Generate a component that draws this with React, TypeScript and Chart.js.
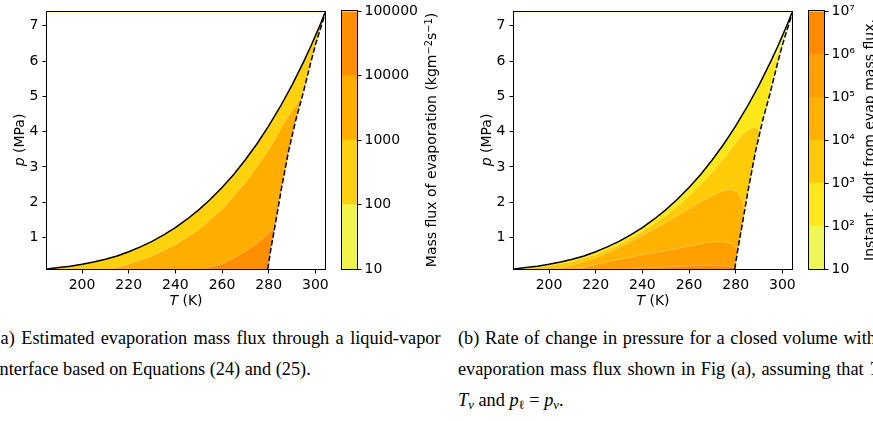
import React, { useEffect, useRef } from 'react';
import { Chart, registerables } from 'chart.js';

Chart.register(...registerables);
Chart.defaults.font.family = 'DejaVu Sans';

// ---------------- data ----------------
// saturation curve, T (K) vs p (MPa)
const SAT_T = [185, 190, 195, 200, 205, 210, 215, 220, 225, 230, 235, 240, 245, 250, 255, 260, 265, 270, 275, 280, 285, 290, 295, 298, 300, 302, 303, 304.13];
const SAT_P = [0.11, 0.15, 0.19, 0.245, 0.31, 0.385, 0.48, 0.6, 0.735, 0.893, 1.075, 1.283, 1.52, 1.785, 2.083, 2.419, 2.789, 3.203, 3.658, 4.161, 4.712, 5.318, 5.984, 6.41, 6.713, 7.02, 7.18, 7.377];
// dashed limit curve
const DASH_T = [279.6, 281.0, 282.6, 285.5, 288.5, 291.5, 294.6, 298.0, 300.0, 301.4, 302.8, 303.6, 304.13];
const DASH_P = [0.11, 0.7, 1.29, 2.4, 3.44, 4.3, 5.05, 5.95, 6.45, 6.75, 7.05, 7.22, 7.377];

// panel (a) contour lines of mass flux
const A_L1000_T = [212.9, 220, 230, 240, 250, 260, 270, 280, 288, 294.4, 300];
const A_L1000_P = [0.11, 0.25, 0.48, 0.8, 1.22, 1.8, 2.55, 3.48, 4.4, 5.0, 5.7];
const A_L10000_T = [252.1, 260, 265, 270.7, 275, 278, 282.5, 288];
const A_L10000_P = [0.11, 0.26, 0.42, 0.64, 0.84, 1.0, 1.3, 1.8];

// panel (b) contour lines of dp/dt
const B_L1E2_T = [291.6, 294, 297, 299.5, 301.5, 304];
const B_L1E2_P = [5.5, 5.78, 6.12, 6.45, 6.72, 7.0];
const B_L1E3_T = [188, 200, 210, 220, 230, 240, 250, 260, 270, 278, 283, 286, 288, 289.6, 290.8, 292];
const B_L1E3_P = [0.11, 0.2, 0.33, 0.52, 0.8, 1.17, 1.62, 2.17, 2.85, 3.5, 3.93, 4.08, 4.13, 4.07, 3.95, 3.7];
const B_L1E4_T = [203, 210, 220, 230, 239, 250, 260, 268, 274, 278, 280.5, 282.3, 283.6, 285];
const B_L1E4_P = [0.11, 0.22, 0.42, 0.72, 1.02, 1.42, 1.82, 2.13, 2.32, 2.37, 2.3, 2.12, 1.85, 1.4];
const B_L1E5_T = [211, 220, 230, 239, 250, 260, 266, 270, 273, 276, 278.5, 280.2, 281.5, 283];
const B_L1E5_P = [0.11, 0.24, 0.38, 0.5, 0.63, 0.76, 0.84, 0.88, 0.89, 0.87, 0.81, 0.7, 0.5, 0.2];
const B_L1E6_T = [232, 245, 258, 268, 275, 279, 282];
const B_L1E6_P = [0.11, 0.15, 0.19, 0.21, 0.2, 0.17, 0.12];

const X_TICKS = [200, 220, 240, 260, 280, 300];
const Y_TICKS = [1, 2, 3, 4, 5, 6, 7];

const A_LEVELS = [10, 100, 1000, 10000, 100000];
const A_LABELS = ['10', '100', '1000', '10000', '100000'];
const A_COLORS = ['#f2f44a', '#ffd20d', '#ffae00', '#fe8f00'];

const B_LEVELS = [10, 1e2, 1e3, 1e4, 1e5, 1e6, 1e7];
const B_LABELS = ['10', '10²', '10³', '10⁴', '10⁵', '10⁶', '10⁷'];
const B_COLORS = ['#edf75a', '#ffe81a', '#ffcb09', '#ffb300', '#ffa000', '#fd8a00'];

// ---------------- layout ----------------
const MAIN_W = 340, MAIN_H = 320;
const PLOT_L = 47, PLOT_R = 325, PLOT_T = 10, PLOT_B = 269;
const CB_X = 335, CB_W = 120, CB_H = 290, CB_L = 342, CB_R = 357;
const PANEL_B_X = 467;
const FONT = { family: 'DejaVu Sans', size: 14 };

type Pt = { x: number; y: number };
const pts = (T: number[], P: number[]): Pt[] => T.map((t, i) => ({ x: t, y: P[i] }));
// anchors outside the axes used only to close polygons (hidden by masks / clipping)
const OUT = { xLo: 175, xHi: 315, yLo: -1, yHi: 9 };

function below(T: number[], P: number[], openLeft = false): Pt[] {
  const c = pts(T, P);
  const first = c[0];
  const last = c[c.length - 1];
  const head = openLeft
    ? [{ x: OUT.xLo, y: OUT.yLo }, { x: OUT.xLo, y: first.y }]
    : [{ x: first.x, y: OUT.yLo }];
  return [{ x: OUT.xHi, y: OUT.yLo }, ...head, ...c, { x: OUT.xHi, y: last.y }];
}
const whole: Pt[] = [
  { x: OUT.xHi, y: OUT.yLo }, { x: OUT.xLo, y: OUT.yLo }, { x: OUT.xLo, y: OUT.yHi }, { x: OUT.xHi, y: OUT.yHi },
];

const framePlugin = {
  id: 'frame',
  afterDatasetsDraw(chart: any) {
    const { ctx, chartArea: a } = chart;
    ctx.save();
    ctx.strokeStyle = '#000';
    ctx.lineWidth = 1;
    ctx.strokeRect(Math.round(a.left) - 0.5, Math.round(a.top) - 0.5, Math.round(a.right - a.left) + 1, Math.round(a.bottom - a.top) + 1);
    ctx.restore();
  },
};

function fillDs(label: string, data: Pt[], color: string, edge: boolean) {
  return {
    label, data, backgroundColor: color,
    borderColor: edge ? 'rgba(255,255,255,0.35)' : color,
    borderWidth: edge ? 0.8 : 0,
    fill: 'shape', pointRadius: 0, tension: 0,
  };
}

function mainConfig(regions: { label: string; data: Pt[]; color: string }[]): any {
  const sat = pts(SAT_T, SAT_P);
  const dash = pts(DASH_T, DASH_P);
  const maskAbove: Pt[] = [
    { x: sat[sat.length - 1].x, y: OUT.yHi }, { x: OUT.xLo, y: OUT.yHi }, { x: OUT.xLo, y: sat[0].y }, ...sat,
  ];
  const maskRight: Pt[] = [
    { x: OUT.xHi, y: OUT.yHi }, ...dash.slice().reverse(), { x: dash[0].x, y: OUT.yLo }, { x: OUT.xHi, y: OUT.yLo },
  ];
  const fills = regions.slice().reverse().map((r, i, arr) => fillDs(r.label, r.data, r.color, i < arr.length - 1));
  return {
    type: 'line',
    data: {
      datasets: [
        { label: 'saturation', data: sat, borderColor: '#000', borderWidth: 1.5, fill: false, pointRadius: 0, tension: 0 },
        { label: 'limit', data: dash, borderColor: '#000', borderWidth: 1.5, borderDash: [5.5, 2.4], fill: false, pointRadius: 0, tension: 0 },
        { label: 'maskAbove', data: maskAbove, backgroundColor: '#fff', borderWidth: 0, fill: 'shape', pointRadius: 0, tension: 0 },
        { label: 'maskRight', data: maskRight, backgroundColor: '#fff', borderWidth: 0, fill: 'shape', pointRadius: 0, tension: 0 },
        ...fills,
      ],
    },
    options: {
      animation: false,
      responsive: false,
      events: [],
      layout: { padding: { left: 0, right: MAIN_W - PLOT_R, top: PLOT_T, bottom: 0 } },
      plugins: { legend: { display: false }, tooltip: { enabled: false } },
      elements: { point: { radius: 0 } },
      scales: {
        x: {
          type: 'linear', min: SAT_T[0], max: SAT_T[SAT_T.length - 1],
          afterBuildTicks: (a: any) => { a.ticks = X_TICKS.map((v) => ({ value: v })); },
          afterFit: (a: any) => { a.height = MAIN_H - PLOT_B; },
          ticks: { font: FONT, color: '#000', padding: 3, maxRotation: 0, autoSkip: false, callback: (v: any) => String(v) },
          grid: { drawOnChartArea: false, drawTicks: true, tickLength: 4.5, tickColor: '#000', tickWidth: 1 },
          border: { display: false },
        },
        y: {
          type: 'linear', min: SAT_P[0], max: SAT_P[SAT_P.length - 1],
          afterBuildTicks: (a: any) => { a.ticks = Y_TICKS.map((v) => ({ value: v })); },
          afterFit: (a: any) => { a.width = PLOT_L; },
          ticks: { font: FONT, color: '#000', padding: 4, autoSkip: false, callback: (v: any) => String(v) },
          grid: { drawOnChartArea: false, drawTicks: true, tickLength: 4.5, tickColor: '#000', tickWidth: 1 },
          border: { display: false },
        },
      },
    },
    plugins: [framePlugin],
  };
}

function barConfig(levels: number[], colors: string[], labels: string[]): any {
  return {
    type: 'bar',
    data: {
      labels: ['scale'],
      datasets: colors.map((c, i) => ({
        label: `${levels[i]}-${levels[i + 1]}`,
        data: [[levels[i], levels[i + 1]]],
        backgroundColor: c, borderWidth: 0, barPercentage: 1, categoryPercentage: 1,
      })),
    },
    options: {
      animation: false,
      responsive: false,
      events: [],
      layout: { padding: { left: CB_L - CB_X, right: 0, top: PLOT_T, bottom: CB_H - PLOT_B } },
      plugins: { legend: { display: false }, tooltip: { enabled: false } },
      scales: {
        x: { display: false, stacked: true },
        y: {
          type: 'logarithmic', position: 'right', min: levels[0], max: levels[levels.length - 1],
          afterBuildTicks: (a: any) => { a.ticks = levels.map((v) => ({ value: v })); },
          afterFit: (a: any) => { a.width = CB_W - (CB_R - CB_X); },
          ticks: { font: FONT, color: '#000', padding: 3, autoSkip: false, callback: (_v: any, i: number) => labels[i] },
          grid: { drawOnChartArea: false, drawTicks: true, tickLength: 4.5, tickColor: '#000', tickWidth: 1 },
          border: { display: false },
        },
      },
    },
    plugins: [framePlugin],
  };
}

const A_REGIONS = [
  { label: '100-1000', data: whole, color: A_COLORS[1] },
  { label: '1000-10000', data: below(A_L1000_T, A_L1000_P), color: A_COLORS[2] },
  { label: '10000-100000', data: below(A_L10000_T, A_L10000_P), color: A_COLORS[3] },
];
const B_REGIONS = [
  { label: '10-1e2', data: whole, color: B_COLORS[0] },
  { label: '1e2-1e3', data: below(B_L1E2_T, B_L1E2_P, true), color: B_COLORS[1] },
  { label: '1e3-1e4', data: below(B_L1E3_T, B_L1E3_P), color: B_COLORS[2] },
  { label: '1e4-1e5', data: below(B_L1E4_T, B_L1E4_P), color: B_COLORS[3] },
  { label: '1e5-1e6', data: below(B_L1E5_T, B_L1E5_P), color: B_COLORS[4] },
  { label: '1e6-1e7', data: below(B_L1E6_T, B_L1E6_P), color: B_COLORS[5] },
];

function Label(props: { cx: number; cy: number; rotate?: boolean; children: any; w?: number }) {
  const w = props.w ?? 320;
  const h = 18;
  return (
    <div
      style={{
        position: 'absolute', left: props.cx - w / 2, top: props.cy - h / 2, width: w, height: h,
        lineHeight: `${h}px`, textAlign: 'center', whiteSpace: 'nowrap', fontFamily: 'DejaVu Sans',
        fontSize: 14, color: '#000', transform: props.rotate ? 'rotate(-90deg)' : undefined,
      }}
    >
      {props.children}
    </div>
  );
}

const supStyle: React.CSSProperties = { fontSize: '0.7em', position: 'relative', top: '-0.45em', verticalAlign: 'baseline' };
const subStyle: React.CSSProperties = { fontSize: '0.7em', position: 'relative', top: '0.25em', verticalAlign: 'baseline' };

const CAP_FS = 18.3;
const CAP_LH = 31;
const CAP_TOP = 323;
const COL_W = 446;

function CapLine(props: { left: number; row: number; justify?: boolean; children: any }) {
  return (
    <div
      style={{
        position: 'absolute', left: props.left, top: CAP_TOP + props.row * CAP_LH, width: COL_W, height: CAP_LH,
        lineHeight: `${CAP_LH}px`, fontFamily: 'Liberation Serif', fontSize: CAP_FS, color: '#000',
        whiteSpace: 'nowrap', textAlign: props.justify ? 'justify' : 'left',
        textAlignLast: props.justify ? 'justify' : 'left',
      } as React.CSSProperties}
    >
      {props.children}
    </div>
  );
}

export default function App() {
  const aMain = useRef<HTMLCanvasElement>(null);
  const aBar = useRef<HTMLCanvasElement>(null);
  const bMain = useRef<HTMLCanvasElement>(null);
  const bBar = useRef<HTMLCanvasElement>(null);

  useEffect(() => {
    const charts = [
      new Chart(aMain.current as HTMLCanvasElement, mainConfig(A_REGIONS)),
      new Chart(aBar.current as HTMLCanvasElement, barConfig(A_LEVELS, A_COLORS, A_LABELS)),
      new Chart(bMain.current as HTMLCanvasElement, mainConfig(B_REGIONS)),
      new Chart(bBar.current as HTMLCanvasElement, barConfig(B_LEVELS, B_COLORS, B_LABELS)),
    ];
    return () => charts.forEach((c) => c.destroy());
  }, []);

  const canvasStyle = (left: number, w: number, h: number): React.CSSProperties => ({
    position: 'absolute', left, top: 0, width: w, height: h,
  });
  const midY = (PLOT_T + PLOT_B) / 2;
  const midX = (PLOT_L + PLOT_R) / 2;

  return (
    <div style={{ position: 'absolute', left: 0, top: 0, width: 873, height: 421, overflow: 'hidden', background: '#fff' }}>
      <canvas ref={aMain} width={MAIN_W} height={MAIN_H} style={canvasStyle(0, MAIN_W, MAIN_H)} />
      <canvas ref={aBar} width={CB_W} height={CB_H} style={canvasStyle(CB_X, CB_W, CB_H)} />
      <canvas ref={bMain} width={MAIN_W} height={MAIN_H} style={canvasStyle(PANEL_B_X, MAIN_W, MAIN_H)} />
      <canvas ref={bBar} width={CB_W} height={CB_H} style={canvasStyle(PANEL_B_X + CB_X, CB_W, CB_H)} />

      <Label cx={18.5} cy={midY} rotate w={120}><i>p</i> (MPa)</Label>
      <Label cx={midX} cy={300} w={120}><i>T</i> (K)</Label>
      <Label cx={431} cy={midY} rotate>
        Mass flux of evaporation (kgm<span style={supStyle}>−2</span>s<span style={supStyle}>−1</span>)
      </Label>

      <Label cx={PANEL_B_X + 18.5} cy={midY} rotate w={120}><i>p</i> (MPa)</Label>
      <Label cx={PANEL_B_X + midX} cy={300} w={120}><i>T</i> (K)</Label>
      <Label cx={869} cy={midY} rotate>Instant. dpdt from evap mass flux.</Label>

      <CapLine left={-5.5} row={0} justify>(a) Estimated evaporation mass flux through a liquid-vapor</CapLine>
      <CapLine left={-5.5} row={1}>interface based on Equations (24) and (25).</CapLine>

      <CapLine left={458} row={0} justify>(b) Rate of change in pressure for a closed volume with the</CapLine>
      <CapLine left={458} row={1} justify>
        evaporation mass flux shown in Fig (a), assuming that <i>T</i><span style={subStyle}>ℓ</span> =
      </CapLine>
      <CapLine left={458} row={2}>
        <i>T</i><span style={subStyle}><i>v</i></span> and <i>p</i><span style={subStyle}>ℓ</span> = <i>p</i><span style={subStyle}><i>v</i></span>.
      </CapLine>
    </div>
  );
}
